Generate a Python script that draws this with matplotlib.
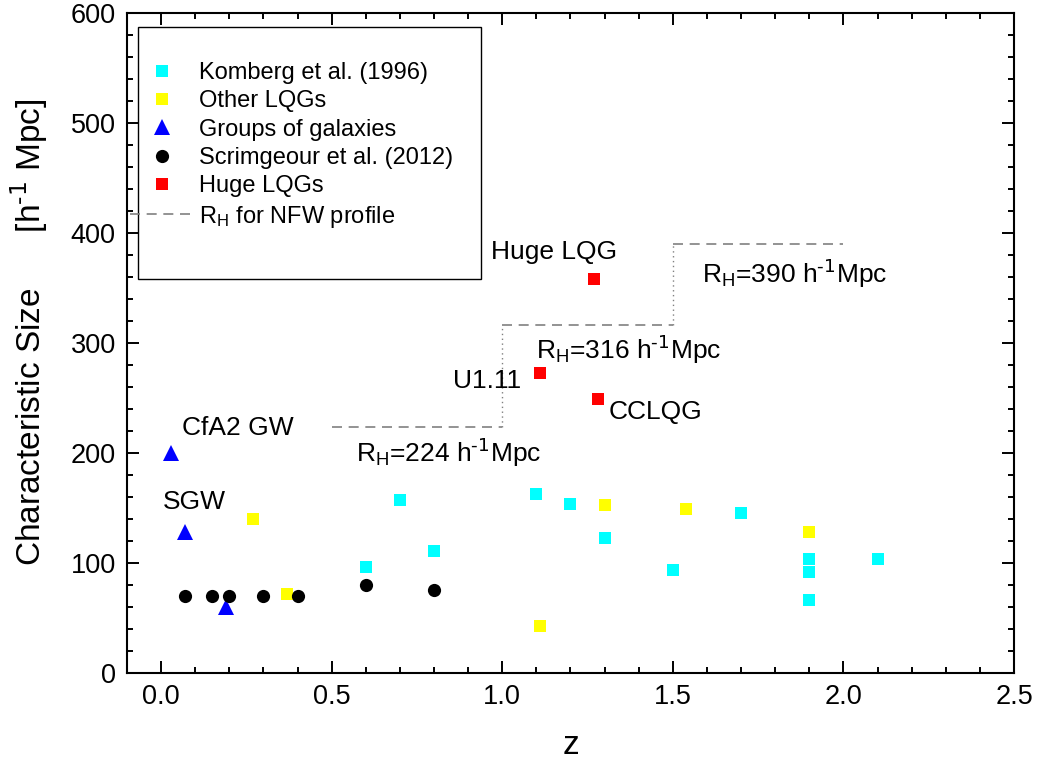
import matplotlib
matplotlib.use("Agg")
import matplotlib.pyplot as plt
from matplotlib.patches import Rectangle
from matplotlib.ticker import MultipleLocator

plt.rcParams["font.family"] = ["Liberation Sans", "DejaVu Sans"]
plt.rcParams["mathtext.default"] = "regular"

# Komberg et al. (1996)
komberg_z = [0.6, 0.7, 0.8, 1.1, 1.2, 1.3, 1.5, 1.7, 1.9, 1.9, 1.9, 2.1]
komberg_size = [96, 157, 111, 163, 154, 123, 94, 145, 104, 92, 66, 104]

# other LQGs
other_z = [0.27, 0.37, 1.11, 1.3, 1.54, 1.9]
other_size = [140, 72, 43, 153, 149, 128]

# groups of galaxies
groups_z = [0.03, 0.07, 0.19]
groups_size = [200, 128, 60]

# Scrimgeour et al. (2012)
scrim_z = [0.07, 0.15, 0.2, 0.3, 0.4, 0.6, 0.8]
scrim_size = [70, 70, 70, 70, 70, 80, 75]

# huge LQGs
huge_z = [1.27, 1.11, 1.28]
huge_size = [358, 273, 249]

# R_H for NFW profile, step per redshift bin
rh_z = [[0.5, 1.0], [1.0, 1.5], [1.5, 2.0]]
rh_val = [224, 316, 390]

fig = plt.figure(figsize=(10.38, 7.73), dpi=100)
ax = fig.add_axes([0.1223, 0.1294, 0.8546, 0.8538])

gray = "#808080"
# dashed horizontal steps and dotted risers
for (z0, z1), r in zip(rh_z, rh_val):
    ax.plot([z0, z1], [r, r], color=gray, lw=1.2, ls=(0, (6, 4)), zorder=1)
for i in range(len(rh_val) - 1):
    zz = rh_z[i][1]
    ax.plot([zz, zz], [rh_val[i], rh_val[i + 1]], color=gray, lw=1.0,
            ls=(0, (1, 2.5)), zorder=1)

ms = dict(ls="none", markeredgewidth=0)
ax.plot(komberg_z, komberg_size, "s", color="#00FFFF", ms=8.5, label="Komberg et al. (1996)", **ms)
ax.plot(other_z, other_size, "s", color="#FFFF00", ms=8.5, label="Other LQGs", **ms)
ax.plot(groups_z, groups_size, "^", color="#0000FF", ms=11, label="Groups of galaxies", **ms)
ax.plot(scrim_z, scrim_size, "o", color="black", ms=9.5, label="Scrimgeour et al. (2012)", **ms)
ax.plot(huge_z, huge_size, "s", color="#FF0000", ms=8.5, label="Huge LQGs", **ms)
ax.plot([], [], color=gray, lw=1.2, ls=(0, (6, 4)), label="R$_H$ for NFW profile")

# annotations
fs = 19
inv = r"h$^{\text{-1}}$"
ax.text(0.06, 223, "CfA2 GW", fontsize=fs, va="center", ha="left")
ax.text(0.006, 155, "SGW", fontsize=fs, va="center", ha="left")
ax.text(0.57, 200, "R$_H$=224 " + inv + "Mpc", fontsize=fs, va="center", ha="left")
ax.text(0.966, 383, "Huge LQG", fontsize=fs, va="center", ha="left")
ax.text(1.586, 363, "R$_H$=390 " + inv + "Mpc", fontsize=fs, va="center", ha="left")
ax.text(1.10, 294, "R$_H$=316 " + inv + "Mpc", fontsize=fs, va="center", ha="left")
ax.text(1.056, 265, "U1.11", fontsize=fs, va="center", ha="right")
ax.text(1.313, 237, "CCLQG", fontsize=fs, va="center", ha="left")

ax.set_xlim(-0.1, 2.5)
ax.set_ylim(0, 600)
ax.xaxis.set_major_locator(MultipleLocator(0.5))
ax.xaxis.set_minor_locator(MultipleLocator(0.1))
ax.yaxis.set_major_locator(MultipleLocator(100))
ax.yaxis.set_minor_locator(MultipleLocator(20))
ax.xaxis.set_major_formatter(plt.FuncFormatter(lambda v, p: f"{v:.1f}"))
ax.tick_params(which="both", direction="in", top=True, right=True, width=1.4,
               labelsize=19.5, pad=8)
ax.tick_params(which="major", length=8.5)
ax.tick_params(which="minor", length=4.5)
for s in ax.spines.values():
    s.set_linewidth(1.5)

ax.set_xlabel("z", fontsize=24, labelpad=14)
ax.set_ylabel("Characteristic Size      [" + inv + " Mpc]", fontsize=24, va="center")
ax.yaxis.set_label_coords(-0.11, 0.517)

# legend box, drawn separately so it can be sized like the original
ax.add_patch(Rectangle((0.0124, 0.597), 0.387, 0.382, transform=ax.transAxes,
                       fill=False, edgecolor="black", lw=1.0, zorder=4))
ax.legend(loc="upper left", bbox_to_anchor=(0.004, 0.926), frameon=False,
          fontsize=17, handlelength=2.67, handletextpad=0.25, labelspacing=0.27,
          borderpad=0, borderaxespad=0, numpoints=1)

fig.savefig("out.png", dpi=100)
